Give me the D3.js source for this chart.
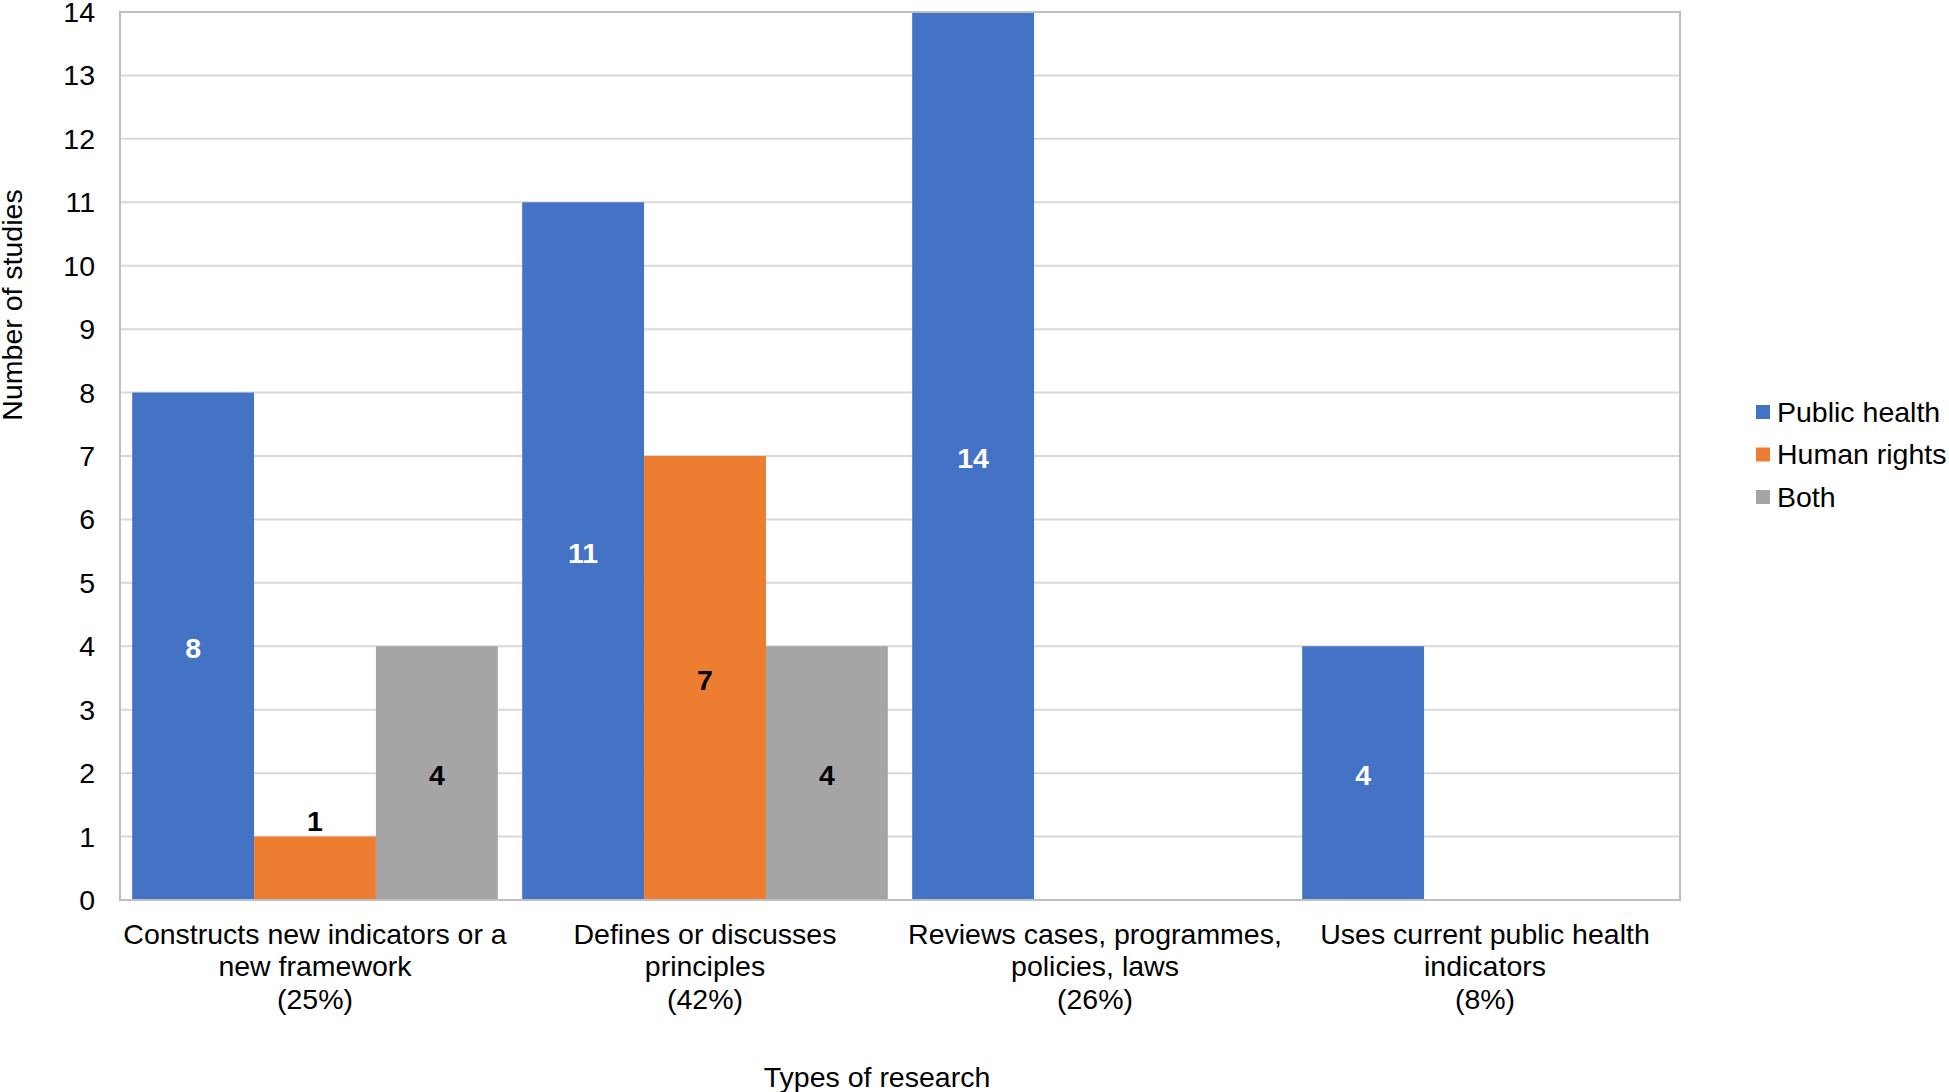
<!DOCTYPE html>
<html>
<head>
<meta charset="utf-8">
<script src="https://cdn.jsdelivr.net/npm/d3@7"></script>
<style>
html,body{margin:0;padding:0;background:#fff;}
svg{display:block;font-family:"Liberation Sans",Arial,sans-serif;}
</style>
</head>
<body>
<svg id="chart" width="1949" height="1092"></svg>
<script>
const categories = [
  ["Constructs new indicators or a", "new framework", "(25%)"],
  ["Defines or discusses", "principles", "(42%)"],
  ["Reviews cases, programmes,", "policies, laws", "(26%)"],
  ["Uses current public health", "indicators", "(8%)"]
];
const seriesNames = ["Public health", "Human rights", "Both"];
const publicHealth = [8, 11, 14, 4];
const humanRights = [1, 7, 0, 0];
const both = [4, 4, 0, 0];
const yTicks = [0,1,2,3,4,5,6,7,8,9,10,11,12,13,14];
const colors = ["#4472C4", "#ED7D31", "#A5A5A5"];
const labelColors = ["#ffffff", "#000000", "#000000"];

const seriesValues = [publicHealth, humanRights, both];

(function() {
const svg = d3.select("#chart");
const pLeft = 120, pRight = 1680, pTop = 12, pBottom = 900;
const fs = 28.5;

const x0 = d3.scaleBand().domain(d3.range(categories.length)).range([pLeft, pRight])
  .paddingInner(0.0625).paddingOuter(0.03125);
const x1 = d3.scaleBand().domain(d3.range(seriesNames.length)).range([0, x0.bandwidth()]);
const y = d3.scaleLinear().domain([0, 14]).range([pBottom, pTop]);

// gridlines
svg.append("g").selectAll("line").data(yTicks.filter(t => t > 0 && t < 14)).join("line")
  .attr("x1", pLeft).attr("x2", pRight)
  .attr("y1", d => y(d)).attr("y2", d => y(d))
  .attr("stroke", "#D9D9D9").attr("stroke-width", 2);

// y tick labels
svg.append("g").selectAll("text").data(yTicks).join("text")
  .attr("x", 95).attr("y", d => y(d)).attr("dy", "0.35em")
  .attr("text-anchor", "end").attr("font-size", fs).attr("fill", "#000")
  .text(d => d);

// bars
const groups = svg.append("g").selectAll("g").data(categories).join("g")
  .attr("transform", (d, i) => `translate(${x0(i)},0)`);

groups.each(function(cat, ci) {
  const g = d3.select(this);
  seriesValues.forEach((vals, si) => {
    const v = vals[ci];
    if (!v) return;
    g.append("rect")
      .attr("x", x1(si)).attr("width", x1.bandwidth())
      .attr("y", y(v)).attr("height", y(0) - y(v))
      .attr("fill", colors[si]);
    const h = y(0) - y(v);
    const inside = h > 70;
    g.append("text")
      .attr("x", x1(si) + x1.bandwidth() / 2)
      .attr("y", inside ? y(v / 2) + 2 : y(v) - 16)
      .attr("dy", "0.35em")
      .attr("text-anchor", "middle")
      .attr("font-size", fs).attr("font-weight", "bold")
      .attr("fill", inside ? labelColors[si] : "#000")
      .text(v);
  });
});

// plot border
svg.append("rect").attr("x", pLeft).attr("y", pTop)
  .attr("width", pRight - pLeft).attr("height", pBottom - pTop)
  .attr("fill", "none").attr("stroke", "#BFBFBF").attr("stroke-width", 2);

// category labels
const catG = svg.append("g").selectAll("text").data(categories).join("text")
  .attr("text-anchor", "middle").attr("font-size", fs).attr("fill", "#000");
catG.each(function(lines, i) {
  const t = d3.select(this);
  lines.forEach((ln, li) => {
    t.append("tspan").attr("x", x0(i) + x0.bandwidth() / 2)
      .attr("y", 934 + li * 32.5).attr("dy", "0.35em").text(ln);
  });
});

// axis titles
svg.append("text").attr("x", 877).attr("y", 1077).attr("dy", "0.35em")
  .attr("text-anchor", "middle").attr("font-size", fs).text("Types of research");
svg.append("text").attr("transform", "translate(12,305) rotate(-90)")
  .attr("dy", "0.35em").attr("text-anchor", "middle").attr("font-size", fs)
  .text("Number of studies");

// legend
const leg = svg.append("g").selectAll("g").data(seriesNames).join("g")
  .attr("transform", (d, i) => `translate(1756,${412 + i * 42.5})`);
leg.append("rect").attr("x", 0).attr("y", -7).attr("width", 14).attr("height", 14)
  .attr("fill", (d, i) => colors[i]);
leg.append("text").attr("x", 21).attr("y", 0).attr("dy", "0.35em")
  .attr("font-size", fs).text(d => d);
})();
</script>
</body>
</html>
